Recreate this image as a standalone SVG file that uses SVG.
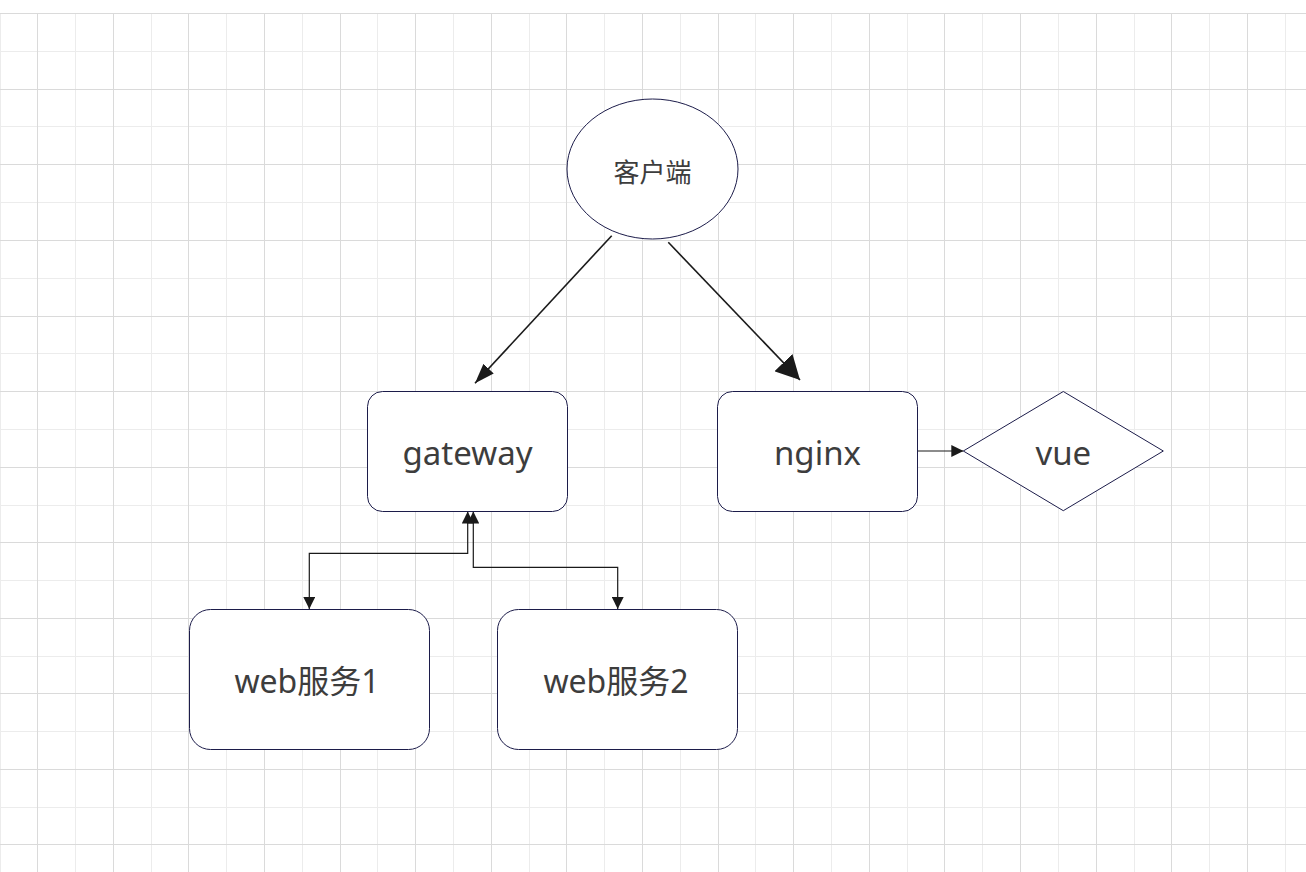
<svg xmlns="http://www.w3.org/2000/svg" width="1306" height="872" viewBox="0 0 1306 872">
<style>
.gd{stroke:#dadada;stroke-width:1;fill:none}
.gl{stroke:#ececec;stroke-width:1;fill:none}
.node{fill:#ffffff;stroke:#1c1c4a;stroke-width:1}
.lbl{font-family:"Noto Sans","Noto Sans CJK SC",sans-serif;fill:#3d3d3d;text-anchor:middle}
.conn{fill:none;stroke:#1a1a1a}
</style>
<defs>
<marker id="aMid" viewBox="0 0 20 14" refX="20" refY="7" markerWidth="20" markerHeight="14" markerUnits="userSpaceOnUse" orient="auto"><path d="M0,0 L20,7 L0,14 Z" fill="#1a1a1a"/></marker>
<marker id="aBig" viewBox="0 0 24 25" refX="24" refY="12.5" markerWidth="24" markerHeight="25" markerUnits="userSpaceOnUse" orient="auto"><path d="M0,0 L24,12.5 L0,25 Z" fill="#1a1a1a"/></marker>
<marker id="aSm" viewBox="0 0 12 12" refX="12" refY="6" markerWidth="12" markerHeight="12" markerUnits="userSpaceOnUse" orient="auto-start-reverse"><path d="M0,0 L12,6 L0,12 Z" fill="#1a1a1a"/></marker>
</defs>
<rect x="0" y="0" width="1306" height="872" fill="#ffffff"/>
<g id="grid">
<path class="gl" d="M0.5,13.5V872M75.5,13.5V872M151.5,13.5V872M226.5,13.5V872M302.5,13.5V872M377.5,13.5V872M453.5,13.5V872M529.5,13.5V872M604.5,13.5V872M680.5,13.5V872M755.5,13.5V872M831.5,13.5V872M907.5,13.5V872M982.5,13.5V872M1058.5,13.5V872M1134.5,13.5V872M1209.5,13.5V872M1285.5,13.5V872M0,51.5H1306M0,126.5H1306M0,202.5H1306M0,278.5H1306M0,353.5H1306M0,429.5H1306M0,505.5H1306M0,580.5H1306M0,656.5H1306M0,731.5H1306M0,807.5H1306"/>
<path class="gd" d="M37.5,13.5V872M113.5,13.5V872M188.5,13.5V872M264.5,13.5V872M340.5,13.5V872M415.5,13.5V872M491.5,13.5V872M566.5,13.5V872M642.5,13.5V872M718.5,13.5V872M793.5,13.5V872M869.5,13.5V872M944.5,13.5V872M1020.5,13.5V872M1096.5,13.5V872M1171.5,13.5V872M1247.5,13.5V872M0,13.5H1306M0,89.5H1306M0,164.5H1306M0,240.5H1306M0,316.5H1306M0,391.5H1306M0,467.5H1306M0,542.5H1306M0,618.5H1306M0,693.5H1306M0,769.5H1306M0,844.5H1306"/>
</g>
<g id="connectors">
<path class="conn" stroke-width="1.6" d="M611.7,235.7 L475,383.3" marker-end="url(#aMid)"/>
<path class="conn" stroke-width="1.6" d="M668.3,242.3 L800,380" marker-end="url(#aBig)"/>
<path class="conn" stroke-width="1.2" d="M917.5,451 H963.3" marker-end="url(#aSm)"/>
<path class="conn" stroke-width="1.2" d="M467.7,511.5 V553.3 H309.3 V609" marker-start="url(#aSm)" marker-end="url(#aSm)"/>
<path class="conn" stroke-width="1.2" d="M473.3,511.5 V567.3 H617.7 V609" marker-start="url(#aSm)" marker-end="url(#aSm)"/>
</g>
<g id="client">
<ellipse class="node" cx="652.5" cy="169" rx="85.5" ry="70"/>
<text class="lbl" x="652.5" y="181.5" font-size="26">客户端</text>
</g>
<g id="gateway">
<rect class="node" x="367.5" y="391.5" width="200" height="120" rx="15" ry="15"/>
<text class="lbl" x="467.5" y="465" font-size="33">gateway</text>
</g>
<g id="nginx">
<rect class="node" x="717.5" y="391.5" width="200" height="120" rx="15" ry="15"/>
<text class="lbl" x="817.5" y="465" font-size="33">nginx</text>
</g>
<g id="vue">
<polygon class="node" points="963.3,451 1063.3,391.5 1163.3,451 1063.3,510.7"/>
<text class="lbl" x="1063.3" y="465" font-size="33">vue</text>
</g>
<g id="web1">
<rect class="node" x="189.5" y="609.5" width="240" height="140" rx="21" ry="21"/>
<text class="lbl" x="307" y="693" font-size="32">web服务1</text>
</g>
<g id="web2">
<rect class="node" x="497.5" y="609.5" width="240" height="140" rx="21" ry="21"/>
<text class="lbl" x="616" y="693" font-size="32">web服务2</text>
</g>
</svg>
